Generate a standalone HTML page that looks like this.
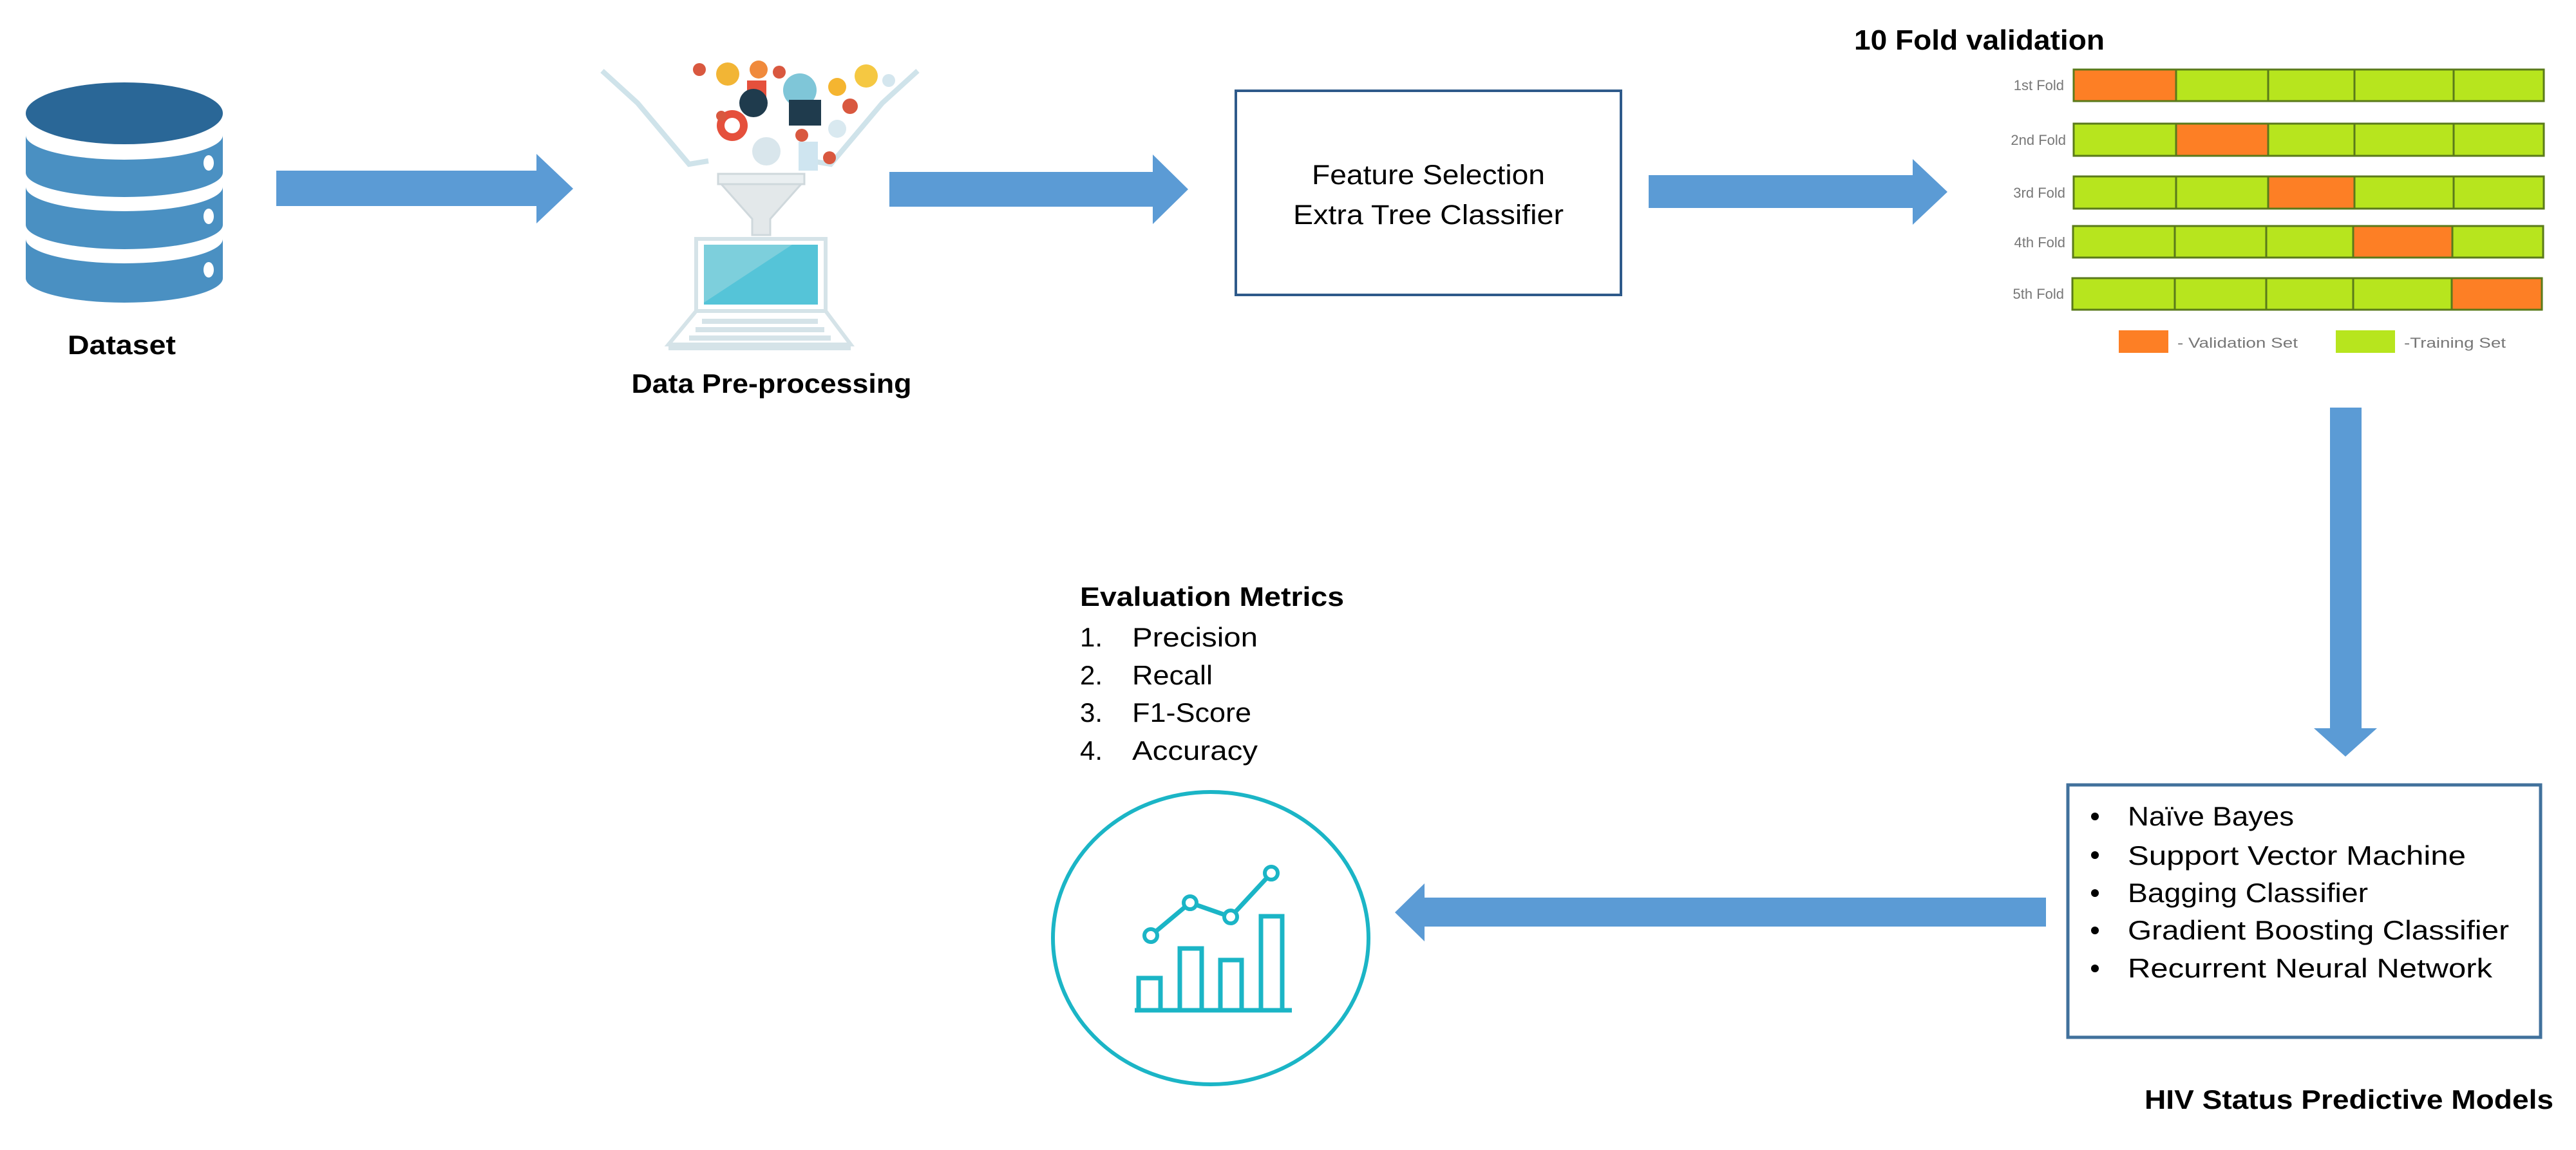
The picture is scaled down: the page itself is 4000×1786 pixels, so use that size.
<!DOCTYPE html>
<html><head><meta charset="utf-8"><style>html,body{margin:0;padding:0;background:#fff}svg{display:block}</style></head>
<body>
<svg width="4000" height="1786" viewBox="0 0 4000 1786" xmlns="http://www.w3.org/2000/svg" font-family="Liberation Sans, sans-serif">
<rect width="4000" height="1786" fill="#fff"/>
<!-- Database -->
<g>
<path d="M40,210 A153,38 0 0 0 346,210 L346,268 A153,38 0 0 1 40,268 Z" fill="#4a90c2"/>
<path d="M40,290 A153,38 0 0 0 346,290 L346,349 A153,38 0 0 1 40,349 Z" fill="#4a90c2"/>
<path d="M40,371 A153,38 0 0 0 346,371 L346,432 A153,38 0 0 1 40,432 Z" fill="#4a90c2"/>
<ellipse cx="193" cy="176" rx="153" ry="48" fill="#2a6797"/>
<ellipse cx="324" cy="253" rx="8" ry="12" fill="#fff"/>
<ellipse cx="324" cy="336" rx="8" ry="12" fill="#fff"/>
<ellipse cx="324" cy="419" rx="8" ry="12" fill="#fff"/>
</g>
<text x="189" y="550" font-size="42" font-weight="bold" text-anchor="middle" textLength="168" lengthAdjust="spacingAndGlyphs">Dataset</text>
<!-- Arrow 1 -->
<polygon points="429,265 833,265 833,239 890,293 833,347 833,320 429,320" fill="#5b9bd5"/>
<!-- Pre-processing icon -->
<g>
<path d="M935,110 L990,160 L1070,255 L1100,250 M1425,110 L1370,160 L1290,255 L1260,250" stroke="#cfe3ea" stroke-width="8" fill="none"/>
<circle cx="1086" cy="108" r="10" fill="#d9583f"/><circle cx="1130" cy="115" r="18" fill="#f2b535"/>
<circle cx="1178" cy="108" r="14" fill="#f08a3c"/><circle cx="1210" cy="112" r="10" fill="#d9583f"/>
<rect x="1160" y="125" width="30" height="30" fill="#e5503c"/><circle cx="1242" cy="140" r="26" fill="#7fc6d8"/>
<circle cx="1300" cy="135" r="14" fill="#f5b530"/><circle cx="1345" cy="118" r="18" fill="#f5c842"/>
<circle cx="1170" cy="160" r="22" fill="#1f3b4d"/><rect x="1225" y="155" width="50" height="40" fill="#1f3b4d"/>
<circle cx="1137" cy="195" r="24" fill="#e5503c"/><circle cx="1137" cy="195" r="12" fill="#fff"/>
<circle cx="1320" cy="165" r="12" fill="#d9583f"/><circle cx="1300" cy="200" r="14" fill="#d9e9f0"/>
<circle cx="1245" cy="210" r="10" fill="#d9583f"/><circle cx="1190" cy="235" r="22" fill="#d9e6ec"/>
<rect x="1240" y="220" width="30" height="45" fill="#cfe5f0"/><circle cx="1288" cy="245" r="10" fill="#d9583f"/>
<circle cx="1120" cy="180" r="8" fill="#d9583f"/><circle cx="1380" cy="125" r="10" fill="#d4e6ee"/>
<rect x="1115" y="270" width="134" height="16" fill="#eaeff1" stroke="#cfd8dc" stroke-width="3"/>
<polygon points="1120,286 1244,286 1196,340 1196,365 1168,365 1168,340" fill="#e3e8ea" stroke="#cfd8dc" stroke-width="3"/>
<rect x="1081" y="371" width="201" height="112" fill="#fff" stroke="#d5e3e8" stroke-width="6"/>
<rect x="1093" y="380" width="177" height="93" fill="#55c4d8"/>
<polygon points="1093,380 1230,380 1093,470" fill="#7dcfdc"/>
<polygon points="1081,483 1282,483 1321,535 1038,535" fill="#fff" stroke="#d5e3e8" stroke-width="6"/>
<g fill="#d5e3e8"><rect x="1090" y="495" width="180" height="8"/><rect x="1080" y="508" width="200" height="8"/><rect x="1070" y="521" width="220" height="8"/></g>
<rect x="1038" y="535" width="283" height="9" fill="#d5e3e8"/>
</g>
<text x="1198" y="610" font-size="42" font-weight="bold" text-anchor="middle" textLength="435" lengthAdjust="spacingAndGlyphs">Data Pre-processing</text>
<!-- Arrow 2 -->
<polygon points="1381,267 1790,267 1790,240 1845,294 1790,348 1790,321 1381,321" fill="#5b9bd5"/>
<!-- Feature box -->
<rect x="1919" y="141" width="598" height="317" fill="#fff" stroke="#2e5a8a" stroke-width="4"/>
<text x="2218" y="286" font-size="43" text-anchor="middle" textLength="362" lengthAdjust="spacingAndGlyphs">Feature Selection</text>
<text x="2218" y="348" font-size="43" text-anchor="middle" textLength="420" lengthAdjust="spacingAndGlyphs">Extra Tree Classifier</text>
<!-- Arrow 3 -->
<polygon points="2560,272 2970,272 2970,247 3024,298 2970,349 2970,323 2560,323" fill="#5b9bd5"/>
<!-- 10 Fold -->
<text x="2879" y="77" font-size="44" font-weight="bold" textLength="389" lengthAdjust="spacingAndGlyphs">10 Fold validation</text>
<g font-size="22" fill="#777" text-anchor="end">
<text x="3205" y="140">1st Fold</text><text x="3208" y="225">2nd Fold</text><text x="3207" y="307">3rd Fold</text><text x="3207" y="384">4th Fold</text><text x="3205" y="464">5th Fold</text>
</g>
<g stroke="#5a7a1a" stroke-width="3">
<rect x="3220" y="108" width="159" height="49" fill="#fd7f25"/><rect x="3379" y="108" width="143" height="49" fill="#b7e51e"/><rect x="3522" y="108" width="134" height="49" fill="#b7e51e"/><rect x="3656" y="108" width="154" height="49" fill="#b7e51e"/><rect x="3810" y="108" width="140" height="49" fill="#b7e51e"/>
<rect x="3220" y="192" width="159" height="50" fill="#b7e51e"/><rect x="3379" y="192" width="143" height="50" fill="#fd7f25"/><rect x="3522" y="192" width="134" height="50" fill="#b7e51e"/><rect x="3656" y="192" width="154" height="50" fill="#b7e51e"/><rect x="3810" y="192" width="140" height="50" fill="#b7e51e"/>
<rect x="3220" y="274" width="159" height="50" fill="#b7e51e"/><rect x="3379" y="274" width="143" height="50" fill="#b7e51e"/><rect x="3522" y="274" width="134" height="50" fill="#fd7f25"/><rect x="3656" y="274" width="154" height="50" fill="#b7e51e"/><rect x="3810" y="274" width="140" height="50" fill="#b7e51e"/>
<rect x="3219" y="351" width="158" height="49" fill="#b7e51e"/><rect x="3377" y="351" width="142" height="49" fill="#b7e51e"/><rect x="3519" y="351" width="135" height="49" fill="#b7e51e"/><rect x="3654" y="351" width="154" height="49" fill="#fd7f25"/><rect x="3808" y="351" width="141" height="49" fill="#b7e51e"/>
<rect x="3218" y="432" width="159" height="49" fill="#b7e51e"/><rect x="3377" y="432" width="142" height="49" fill="#b7e51e"/><rect x="3519" y="432" width="135" height="49" fill="#b7e51e"/><rect x="3654" y="432" width="153" height="49" fill="#b7e51e"/><rect x="3807" y="432" width="140" height="49" fill="#fd7f25"/>
</g>
<rect x="3290" y="513" width="77" height="35" fill="#fd7f25"/>
<text x="3381" y="540" font-size="22" fill="#777" textLength="187" lengthAdjust="spacingAndGlyphs">- Validation Set</text>
<rect x="3627" y="513" width="92" height="35" fill="#b7e51e"/>
<text x="3733" y="540" font-size="22" fill="#777" textLength="158" lengthAdjust="spacingAndGlyphs">-Training Set</text>
<!-- Down arrow -->
<polygon points="3618,633 3667,633 3667,1131 3691,1131 3642,1175 3593,1131 3618,1131" fill="#5b9bd5"/>
<!-- Models box -->
<rect x="3211" y="1219" width="734" height="392" fill="#fff" stroke="#41719c" stroke-width="5"/>
<g font-size="42">
<circle cx="3253" cy="1268" r="6"/><text x="3304" y="1282" textLength="258" lengthAdjust="spacingAndGlyphs">Naïve Bayes</text>
<circle cx="3253" cy="1328" r="6"/><text x="3304" y="1343" textLength="525" lengthAdjust="spacingAndGlyphs">Support Vector Machine</text>
<circle cx="3253" cy="1387" r="6"/><text x="3304" y="1401" textLength="373" lengthAdjust="spacingAndGlyphs">Bagging Classifier</text>
<circle cx="3253" cy="1445" r="6"/><text x="3304" y="1459" textLength="592" lengthAdjust="spacingAndGlyphs">Gradient Boosting Classifier</text>
<circle cx="3253" cy="1504" r="6"/><text x="3304" y="1518" textLength="566" lengthAdjust="spacingAndGlyphs">Recurrent Neural Network</text>
</g>
<text x="3330" y="1722" font-size="42" font-weight="bold" textLength="635" lengthAdjust="spacingAndGlyphs">HIV Status Predictive Models</text>
<!-- Left arrow -->
<polygon points="3177,1394 2212,1394 2212,1372 2166,1417 2212,1462 2212,1439 3177,1439" fill="#5b9bd5"/>
<!-- Eval metrics -->
<text x="1677" y="941" font-size="42" font-weight="bold" textLength="410" lengthAdjust="spacingAndGlyphs">Evaluation Metrics</text>
<g font-size="42">
<text x="1677" y="1004">1.</text><text x="1758" y="1004" textLength="195" lengthAdjust="spacingAndGlyphs">Precision</text>
<text x="1677" y="1063">2.</text><text x="1758" y="1063" textLength="125" lengthAdjust="spacingAndGlyphs">Recall</text>
<text x="1677" y="1121">3.</text><text x="1758" y="1121" textLength="185" lengthAdjust="spacingAndGlyphs">F1-Score</text>
<text x="1677" y="1180">4.</text><text x="1758" y="1180" textLength="195" lengthAdjust="spacingAndGlyphs">Accuracy</text>
</g>
<!-- Circle chart -->
<ellipse cx="1880" cy="1457" rx="245" ry="227" fill="none" stroke="#1bb5c6" stroke-width="6"/>
<g fill="none" stroke="#1bb5c6" stroke-width="7">
<line x1="1762" y1="1569" x2="2006" y2="1569"/>
<rect x="1768" y="1519" width="34" height="50"/>
<rect x="1832" y="1473" width="34" height="96"/>
<rect x="1895" y="1491" width="33" height="78"/>
<rect x="1958" y="1423" width="33" height="146"/>
<polyline points="1787,1453 1848,1402 1911,1424 1974,1356"/>
</g>
<g fill="#fff" stroke="#1bb5c6" stroke-width="6">
<circle cx="1787" cy="1453" r="10"/><circle cx="1848" cy="1402" r="10"/><circle cx="1911" cy="1424" r="10"/><circle cx="1974" cy="1356" r="10"/>
</g>
</svg>
</body></html>
